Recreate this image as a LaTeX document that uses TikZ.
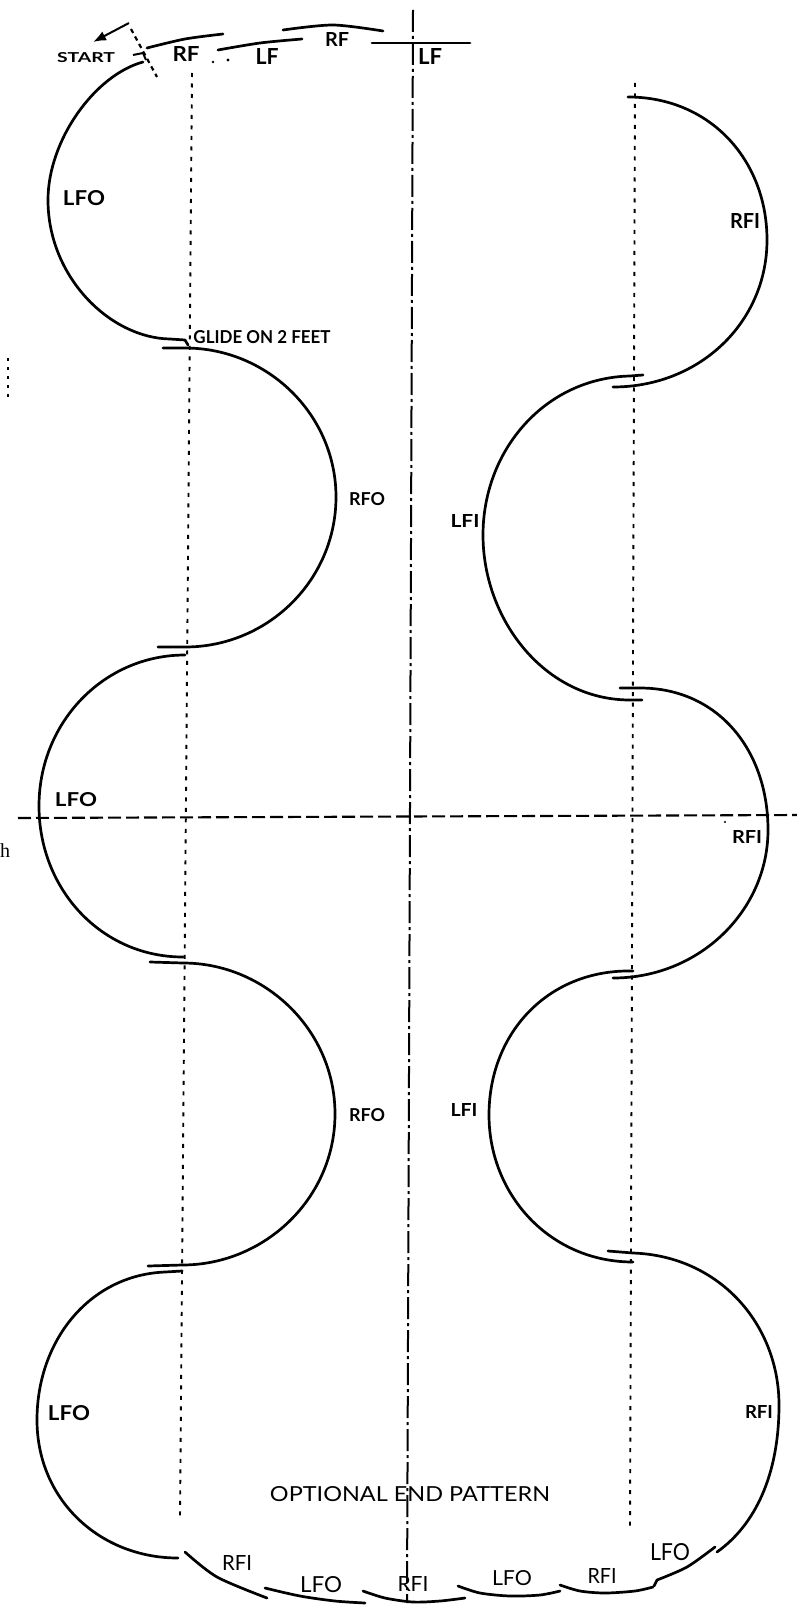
\documentclass[tikz,border=0pt]{standalone}
\usepackage{fontspec}
\setmainfont{Lato}
\newfontfamily\serifh{Liberation Serif}
\usepackage{graphicx}
\usetikzlibrary{arrows.meta}
\newcommand{\skl}[3]{\resizebox{#1pt}{#2pt}{#3}}
\begin{document}
\begin{tikzpicture}[x=1pt,y=-1pt,
  track/.style={line width=2.7pt, line cap=round, line join=round},
  guide/.style={line width=1.9pt, dash pattern=on 4pt off 6.5pt},
  vaxis/.style={line width=2pt, dash pattern=on 22pt off 4pt on 3pt off 4pt},
  haxis/.style={line width=2.1pt, dash pattern=on 13pt off 5pt},
  lbl/.style={inner sep=0pt}]
\useasboundingbox (0,0) rectangle (797,1605);
\fill[white] (0,0) rectangle (797,1605);

% axes and guide lines
\coordinate (vtop) at (413,10);
\coordinate (vbot) at (407,1603);
\coordinate (hleft) at (18,818);
\coordinate (hright) at (797,815);
\coordinate (gltop) at (192,73);
\coordinate (glbot) at (180,1518);
\coordinate (grtop) at (635,83);
\coordinate (grbot) at (630,1530);
\draw[vaxis] (vtop) -- (vbot);
\draw[haxis] (hleft) -- (hright);
\draw[guide] (gltop) -- (glbot);
\draw[guide] (grtop) -- (grbot);
\coordinate (mk1) at (8,358);
\coordinate (mk2) at (8,398);
\draw[line width=1.2pt, dash pattern=on 3pt off 6pt] (mk1) -- (mk2);

% start
\coordinate (arrT) at (129,23);
\coordinate (arrH) at (93,42);
\draw[line width=2pt,-{Latex[length=13pt,width=10pt]}] (arrT) -- (arrH);
\coordinate (sd1) at (131,29);
\coordinate (sd2) at (157,77);
\draw[line width=2.2pt, dash pattern=on 4.5pt off 4pt] (sd1) -- (sd2);
\draw[line width=2pt] (133,55) -- (143,53) -- (146,60);

% top edges
\draw[track] plot[smooth] coordinates {(147,48) (185,39) (223,34)};
\draw[track] plot[smooth] coordinates {(218,50) (260,43) (302,39)};
\draw[track] plot[smooth] coordinates {(283,30) (333,25) (383,31)};
\draw[track] (372,43) -- (470,43);
\fill (213,62) circle (1.4pt);
\fill (228,60) circle (1.7pt);

% left lobes
\draw[track] (143,62) .. controls (95,75) and (48,140) .. (48,200)
  .. controls (48,277) and (110,338) .. (170,339) -- (185,340) -- (188,345);
\draw[track] (163,348) -- (185,348) .. controls (268,348) and (336,415) .. (336,497)
  .. controls (336,580) and (268,647) .. (185,647) -- (158,647);
\draw[track] (185,655) .. controls (104,655) and (39,722) .. (39,806)
  .. controls (39,890) and (102,957) .. (183,957);
\draw[track] (150,962) -- (183,963) .. controls (265,963) and (335,1030) .. (335,1114)
  .. controls (335,1198) and (265,1265) .. (182,1265) -- (148,1266);
\draw[track] (182,1271) -- (165,1272) .. controls (90,1275) and (37,1340) .. (37,1420)
  .. controls (37,1500) and (100,1558) .. (178,1558);

% right lobes
\draw[track] (628,97) .. controls (710,97) and (767,160) .. (767,240)
  .. controls (767,322) and (700,387) .. (613,387);
\draw[track] (643,375) -- (630,376) .. controls (545,378) and (483,450) .. (483,535)
  .. controls (483,620) and (545,700) .. (630,700) -- (642,700);
\draw[track] (620,688) -- (640,688) .. controls (718,688) and (768,750) .. (768,830)
  .. controls (768,910) and (700,978) .. (613,978);
\draw[track] (633,971) -- (625,971) .. controls (545,973) and (489,1035) .. (489,1115)
  .. controls (489,1195) and (550,1262) .. (633,1262);
\draw[track] (608,1251) -- (633,1253) .. controls (720,1256) and (779,1325) .. (779,1405)
  .. controls (779,1475) and (755,1525) .. (717,1552);

% optional end pattern edges
\draw[track] plot[smooth] coordinates {(185,1552) (217,1577) (267,1598)};
\draw[track] plot[smooth] coordinates {(265,1588) (300,1596) (335,1601) (365,1603)};
\draw[track] plot[smooth] coordinates {(363,1591) (385,1598) (413,1602) (440,1601) (465,1598)};
\draw[track] plot[smooth] coordinates {(458,1586) (480,1593) (510,1596) (540,1595) (560,1591)};
\draw[track] plot[smooth] coordinates {(560,1585) (580,1591) (605,1593) (635,1591) (653,1587)};
\draw[track] (654,1586) -- (657,1580);
\draw[track] plot[smooth] coordinates {(657,1580) (687,1567) (715,1547)};
\fill (725,822) circle (1.2pt);

% labels
\node[lbl] (start) at (86,58) {\skl{58}{10}{\bfseries START}};
\node[lbl] (rf1) at (186,54) {\skl{27}{15}{\bfseries RF}};
\node[lbl] (lf1) at (267,57) {\skl{23}{16}{\bfseries LF}};
\node[lbl] (rf2) at (337,40) {\skl{24}{14}{\bfseries RF}};
\node[lbl] (lf2) at (430,57) {\skl{24}{16}{\bfseries LF}};
\node[lbl] (lfoA) at (84,198) {\skl{42}{15}{\bfseries LFO}};
\node[lbl] (glide) at (262,337) {\skl{137}{13}{\bfseries GLIDE ON 2 FEET}};
\node[lbl] (rfoA) at (367,499) {\skl{36}{13}{\bfseries RFO}};
\node[lbl] (lfiA) at (465,521) {\skl{29}{13}{\bfseries LFI}};
\node[lbl] (rfiA) at (745,221) {\skl{30}{15}{\bfseries RFI}};
\node[lbl] (lfoB) at (76,800) {\skl{42}{14}{\bfseries LFO}};
\node[lbl] (rfiB) at (747,837) {\skl{30}{13}{\bfseries RFI}};
\node[lbl] (rfoB) at (367,1115) {\skl{36}{13}{\bfseries RFO}};
\node[lbl] (lfiB) at (464,1110) {\skl{27}{13}{\bfseries LFI}};
\node[lbl] (lfoC) at (69,1413) {\skl{42}{15}{\bfseries LFO}};
\node[lbl] (rfiC) at (759,1412) {\skl{28}{13}{\bfseries RFI}};
\node[lbl] (opt) at (410,1494) {\skl{280}{15}{OPTIONAL END PATTERN}};
\node[lbl] (e1) at (237,1563) {\skl{30}{15}{RFI}};
\node[lbl] (e2) at (321,1585) {\skl{42}{16}{LFO}};
\node[lbl] (e3) at (413,1584) {\skl{31}{15}{RFI}};
\node[lbl] (e4) at (512,1578) {\skl{40}{15}{LFO}};
\node[lbl] (e5) at (602,1576) {\skl{29}{15}{RFI}};
\node[lbl] (e6) at (670,1552) {\skl{40}{17}{LFO}};
\node[lbl, anchor=base west] (hh) at (0,857) {\fontsize{20}{20}\selectfont\serifh h};
\end{tikzpicture}
\end{document}
